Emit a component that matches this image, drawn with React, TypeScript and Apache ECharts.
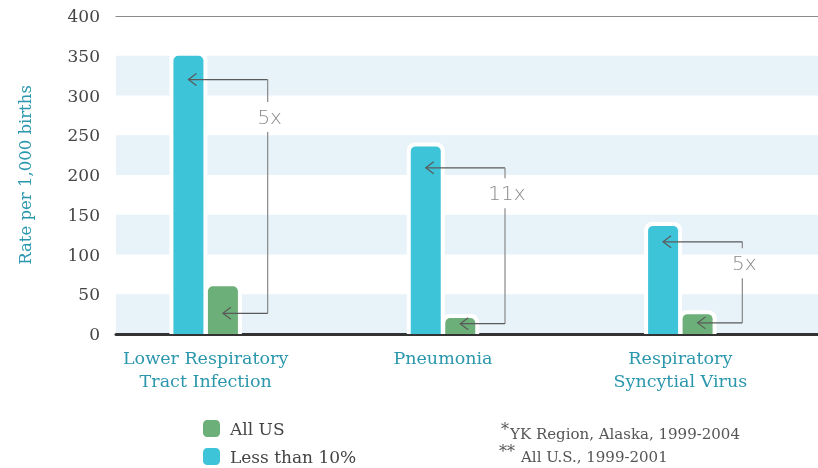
import React, { useEffect, useRef } from "react";
import * as echarts from "echarts";

const categories = ["Lower Respiratory\nTract Infection", "Pneumonia", "Respiratory\nSyncytial Virus"];
const lessThan10 = [350, 236, 136];
const allUS = [60, 20, 25];
const yTicks = [0, 50, 100, 150, 200, 250, 300, 350, 400];
const ratioTop = [320, 209, 116];
const ratioBottom = [26, 13, 14];
const ratioLabelAt = [273, 177, 89];
const ratioLabels = ["5x", "11x", "5x"];

const SERIF = "'DejaVu Serif', serif";
const TEAL = "#2a97ad";
const BLUE = "#3ec4d9";
const GREEN = "#6daf78";
const BAR_W = 30;
const BAR_OFF = 17.25;

export default function App() {
  const ref = useRef<HTMLDivElement>(null);
  useEffect(() => {
    if (!ref.current) return;
    const chart = echarts.init(ref.current, undefined, { renderer: "svg" });
    const bracketData = categories.map((_, i) => [i, ratioTop[i], ratioBottom[i], ratioLabelAt[i], ratioLabels[i]]);
    const haloData = categories.map((_, i) => [i, lessThan10[i], allUS[i]]);
    chart.setOption({
      animation: false,
      grid: [
        { left: 116, right: 0, top: 16, bottom: 134 },
        { left: 87, right: 19, top: 16, bottom: 134 },
      ],
      xAxis: [
        {
          gridIndex: 0, type: "value", min: 0, max: 1, position: "bottom",
          axisLine: { show: true, onZero: false, lineStyle: { color: "#333", width: 3 } },
          axisTick: { show: false }, axisLabel: { show: false }, splitLine: { show: false },
        },
        {
          gridIndex: 0, type: "value", min: 0, max: 1, position: "top",
          axisLine: { show: true, onZero: false, lineStyle: { color: "#8a8a8a", width: 1.2 } },
          axisTick: { show: false }, axisLabel: { show: false }, splitLine: { show: false },
        },
        {
          gridIndex: 1, type: "category", data: categories,
          axisLine: { show: false }, axisTick: { show: false },
          axisLabel: { color: TEAL, fontSize: 17.5, fontFamily: SERIF, lineHeight: 23, margin: 12, interval: 0 },
        },
      ],
      yAxis: [
        {
          gridIndex: 0, type: "value", min: yTicks[0], max: yTicks[yTicks.length - 1], interval: 50,
          name: "Rate per 1,000 births", nameLocation: "middle", nameRotate: 90, nameGap: 82,
          nameTextStyle: { color: TEAL, fontSize: 16.5, fontFamily: SERIF },
          axisLine: { show: false }, axisTick: { show: false },
          axisLabel: { color: "#444", fontSize: 17, fontFamily: SERIF, margin: 16 },
          splitLine: { show: false },
          splitArea: { show: true, areaStyle: { color: ["#e8f2f9", "rgba(255,255,255,0)"] } },
        },
        { gridIndex: 1, type: "value", min: 0, max: 400, show: false },
      ],
      legend: {
        orient: "vertical", left: 203, top: 420, itemWidth: 17, itemHeight: 17, itemGap: 11,
        icon: "roundRect", padding: 0,
        data: ["All US", "Less than 10%"],
        textStyle: { color: "#444", fontSize: 17, fontFamily: SERIF, padding: [0, 0, 0, 5] },
      },
      series: [
        {
          type: "custom", xAxisIndex: 2, yAxisIndex: 1, z: 1, data: haloData, silent: true,
          renderItem: (params: any, api: any) => {
            const i = api.value(0);
            const base = api.coord([i, 0]);
            const tb = api.coord([i, api.value(1)]);
            const tg = api.coord([i, api.value(2)]);
            const cx = base[0];
            const h = 4;
            const w = BAR_W + 2 * h;
            return {
              type: "group",
              children: [
                { type: "rect", shape: { x: cx - BAR_OFF - w / 2, y: tb[1] - h, width: w, height: base[1] - tb[1] + h, r: [8, 8, 0, 0] }, style: { fill: "#fff" } },
                { type: "rect", shape: { x: cx + BAR_OFF - w / 2, y: tg[1] - h, width: w, height: base[1] - tg[1] + h, r: [8, 8, 0, 0] }, style: { fill: "#fff" } },
              ],
            };
          },
        },
        {
          name: "Less than 10%", type: "bar", xAxisIndex: 2, yAxisIndex: 1, data: lessThan10, z: 2,
          barWidth: BAR_W, barGap: "15%",
          itemStyle: { color: BLUE, borderRadius: [5, 5, 0, 0] },
        },
        {
          name: "All US", type: "bar", xAxisIndex: 2, yAxisIndex: 1, data: allUS, z: 2,
          barWidth: BAR_W, barGap: "15%",
          itemStyle: { color: GREEN, borderRadius: [5, 5, 0, 0] },
        },
        {
          type: "custom", xAxisIndex: 2, yAxisIndex: 1, z: 5, data: bracketData, silent: true,
          renderItem: (params: any, api: any) => {
            const i = api.value(0);
            const top = api.coord([i, api.value(1)]);
            const bot = api.coord([i, api.value(2)]);
            const mid = api.coord([i, api.value(3)]);
            const cx = top[0];
            const xr = cx + 62;
            const bx = cx - BAR_OFF;
            const gx = cx + BAR_OFF;
            const gap = 15;
            const ls = { stroke: "#5a5a5a", lineWidth: 1.2, fill: "none" };
            const vs = { stroke: "#888", lineWidth: 1.2, fill: "none" };
            return {
              type: "group",
              children: [
                { type: "polyline", shape: { points: [[bx, top[1]], [xr, top[1]]] }, style: ls },
                { type: "polyline", shape: { points: [[xr, top[1]], [xr, mid[1] - gap]] }, style: vs },
                { type: "polyline", shape: { points: [[xr, mid[1] + gap], [xr, bot[1]]] }, style: vs },
                { type: "polyline", shape: { points: [[xr, bot[1]], [gx, bot[1]]] }, style: ls },
                { type: "polyline", shape: { points: [[bx + 8, top[1] - 6], [bx, top[1]], [bx + 8, top[1] + 6]] }, style: ls },
                { type: "polyline", shape: { points: [[gx + 8, bot[1] - 6], [gx, bot[1]], [gx + 8, bot[1] + 6]] }, style: ls },
                {
                  type: "text", x: xr + 2, y: mid[1],
                  style: {
                    text: api.value(4), align: "center", verticalAlign: "middle",
                    fontSize: 20, fontWeight: 200, fontFamily: "'DejaVu Sans', sans-serif", fill: "#8a8a8a",
                  },
                },
              ],
            };
          },
        },
      ],
      graphic: [
        { type: "text", left: 501, top: 421, style: { text: "*", fontSize: 16, fontFamily: SERIF, fill: "#555" } },
        { type: "text", left: 510, top: 426, style: { text: "YK Region, Alaska, 1999-2004", fontSize: 15, fontFamily: SERIF, fill: "#555" } },
        { type: "text", left: 499, top: 443, style: { text: "**", fontSize: 16, fontFamily: SERIF, fill: "#555" } },
        { type: "text", left: 521, top: 449, style: { text: "All U.S., 1999-2001", fontSize: 15, fontFamily: SERIF, fill: "#555" } },
      ],
    });
    return () => chart.dispose();
  }, []);
  return <div ref={ref} style={{ position: "fixed", left: 0, top: 0, width: 818, height: 468 }} />;
}
